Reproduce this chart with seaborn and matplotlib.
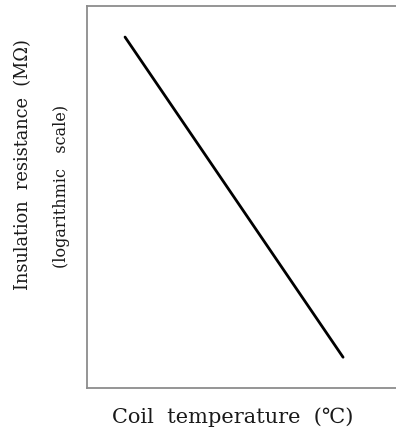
import seaborn as sns
import pandas as pd
import numpy as np
import matplotlib.pyplot as plt

sns.set_theme(style='white')
plt.rcParams['font.family'] = ['DejaVu Serif', 'Noto Sans CJK JP', 'DejaVu Sans']

# coil temperature (arbitrary units) vs insulation resistance (log scale)
temperature = [12.0, 80.8]
resistance = [4730, 2.1]

df = pd.DataFrame({'Temperature': temperature, 'Resistance': resistance})

fig = plt.figure(figsize=(3.96, 4.32), dpi=100)
ax = fig.add_axes([87 / 396, 44 / 432, 1.02 - 87 / 396, 382 / 432])

sns.lineplot(data=df, x='Temperature', y='Resistance', ax=ax,
             color='black', linewidth=2)

ax.set_yscale('log')
ax.set_xlim(0, 100)
ax.set_ylim(1, 1e4)
ax.set_xticks([])
ax.set_yticks([])
ax.minorticks_off()
ax.set_xlabel('')
ax.set_ylabel('')

for side in ['left', 'top', 'bottom']:
    ax.spines[side].set_color('#8c8c8c')
    ax.spines[side].set_linewidth(1.3)
ax.spines['right'].set_visible(False)

fig.text(233 / 396, 1 - 417 / 432, 'Coil  temperature  (\u2103)',
         ha='center', va='center', fontsize=15, color='#1a1a1a')
fig.text(23 / 396, 1 - 165 / 432, 'Insulation  resistance  (M\u03a9)',
         ha='center', va='center', rotation=90, fontsize=12.8, color='#1a1a1a')
fig.text(61 / 396, 1 - 186 / 432, '(logarithmic   scale)',
         ha='center', va='center', rotation=90, fontsize=11.5, color='#1a1a1a')

plt.savefig('out.png', dpi=100)
